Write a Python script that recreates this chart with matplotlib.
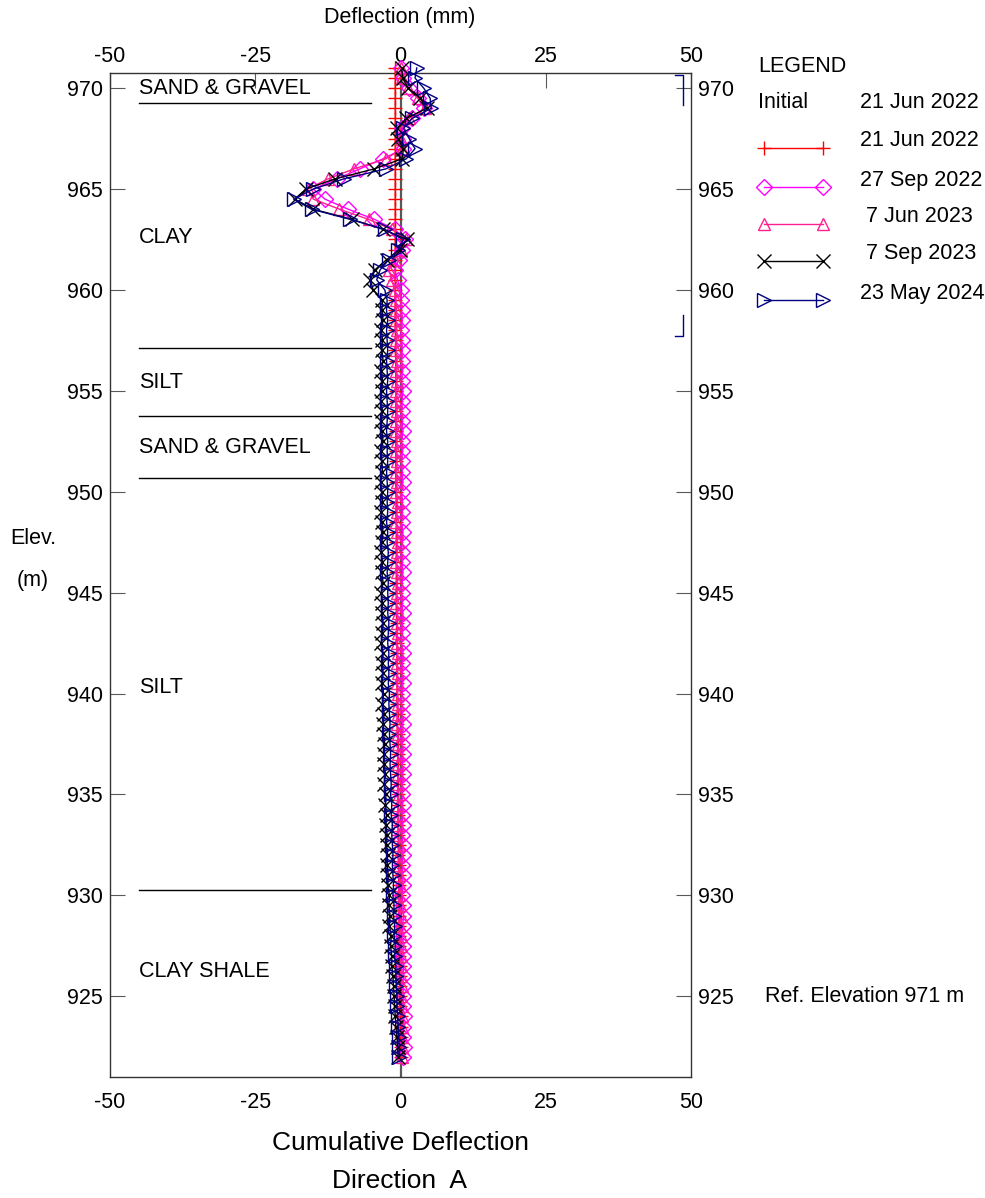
import numpy as np
import matplotlib
matplotlib.use("Agg")
import matplotlib.pyplot as plt
from matplotlib.lines import Line2D

plt.rcParams['font.family'] = ['Liberation Sans', 'DejaVu Sans']

# reading elevations (m), 0.5 m spacing
elev = np.arange(971.0, 921.9, -0.5)

# cumulative deflection (mm), one value per reading, top to bottom
d_21jun22 = [
    -0.9, -0.9, -0.9, -0.9, -0.9, -0.9, -0.9, -0.9, -0.9, -0.9,
    -0.9, -0.9, -0.9, -0.9, -0.9, -0.9, -0.9, -0.9, -0.9, -0.9,
    -0.9, -0.9, -0.9, -0.9, -0.9, -0.9, -0.9, -0.8, -0.9, -0.8,
    -0.8, -0.8, -0.8, -0.8, -0.8, -0.8, -0.8, -0.8, -0.8, -0.8,
    -0.8, -0.8, -0.8, -0.7, -0.8, -0.7, -0.7, -0.7, -0.7, -0.7,
    -0.7, -0.7, -0.7, -0.7, -0.7, -0.6, -0.7, -0.6, -0.6, -0.6,
    -0.6, -0.6, -0.6, -0.6, -0.5, -0.6, -0.5, -0.5, -0.5, -0.5,
    -0.5, -0.4, -0.5, -0.4, -0.4, -0.4, -0.4, -0.3, -0.4, -0.3,
    -0.3, -0.3, -0.3, -0.2, -0.3, -0.2, -0.2, -0.2, -0.2, -0.1,
    -0.1, -0.1, -0.1, -0.1, 0.0, 0.0, 0.0, 0.0, 0.0]
d_27sep22 = [
    0.0, 0.5, 1.5, 3.0, 4.0, 2.0, 0.3, 0.5, 0.5, -3.0,
    -7.0, -11.0, -15.0, -13.0, -9.0, -4.5, -1.0, 0.8, 0.3, -0.3,
    -1.0, -0.5, 0.0, 0.1, 0.2, 0.3, 0.1, 0.2, 0.3, 0.2,
    0.3, 0.2, 0.4, 0.3, 0.2, 0.3, 0.4, 0.2, 0.3, 0.2,
    0.3, 0.4, 0.2, 0.3, 0.3, 0.2, 0.4, 0.3, 0.2, 0.3,
    0.4, 0.3, 0.2, 0.3, 0.4, 0.3, 0.3, 0.2, 0.4, 0.3,
    0.3, 0.4, 0.3, 0.2, 0.3, 0.4, 0.3, 0.3, 0.4, 0.3,
    0.4, 0.3, 0.3, 0.4, 0.3, 0.4, 0.3, 0.4, 0.4, 0.3,
    0.4, 0.4, 0.3, 0.4, 0.5, 0.4, 0.4, 0.5, 0.4, 0.5,
    0.5, 0.4, 0.5, 0.5, 0.6, 0.5, 0.5, 0.6, 0.5]
d_7jun23 = [
    0.0, 0.3, 1.3, 3.0, 4.3, 1.5, 0.0, 0.0, 0.3, -2.5,
    -8.0, -12.5, -16.0, -15.0, -10.5, -5.5, -1.5, 1.0, 0.0, -1.0,
    -2.0, -1.5, -1.0, -0.8, -0.7, -0.8, -0.6, -0.7, -0.8, -0.6,
    -0.7, -0.6, -0.8, -0.7, -0.6, -0.7, -0.8, -0.6, -0.7, -0.6,
    -0.7, -0.6, -0.7, -0.5, -0.6, -0.7, -0.6, -0.5, -0.6, -0.7,
    -0.6, -0.5, -0.6, -0.7, -0.5, -0.6, -0.5, -0.6, -0.5, -0.6,
    -0.5, -0.6, -0.5, -0.4, -0.5, -0.6, -0.4, -0.5, -0.4, -0.5,
    -0.4, -0.5, -0.3, -0.4, -0.3, -0.4, -0.3, -0.2, -0.3, -0.2,
    -0.2, -0.1, -0.2, -0.1, 0.0, -0.1, 0.0, 0.1, 0.0, 0.1,
    0.1, 0.2, 0.1, 0.2, 0.2, 0.3, 0.2, 0.3, 0.2]
d_7sep23 = [
    0.2, 0.4, 1.3, 3.4, 4.5, 1.0, -0.6, -0.5, 0.5, 0.3,
    -4.5, -11.3, -16.3, -18.2, -15.0, -8.4, -3.0, 1.1, -0.1, -2.4,
    -4.4, -5.2, -4.7, -3.1, -3.2, -3.0, -3.3, -3.1, -3.2, -3.0,
    -3.3, -3.1, -3.2, -3.4, -3.1, -3.3, -3.2, -3.0, -3.3, -3.2,
    -3.1, -3.4, -3.2, -3.1, -3.3, -3.2, -3.0, -3.2, -3.3, -3.1,
    -3.2, -3.0, -3.3, -3.1, -3.2, -3.0, -3.1, -3.3, -3.0, -3.1,
    -3.0, -3.2, -2.9, -3.1, -2.8, -3.0, -2.9, -2.7, -2.9, -2.8,
    -2.6, -2.8, -2.5, -2.6, -2.4, -2.5, -2.3, -2.4, -2.2, -2.3,
    -2.1, -2.2, -1.9, -2.0, -1.8, -1.9, -1.6, -1.7, -1.5, -1.5,
    -1.3, -1.2, -1.1, -1.0, -0.9, -0.8, -0.6, -0.5, -0.4]
d_23may24 = [
    2.8, 2.5, 4.0, 5.1, 5.3, 2.0, 0.5, 1.5, 2.5, 1.0,
    -2.5, -9.8, -15.0, -18.4, -15.3, -8.7, -2.7, 0.5, -0.4, -2.0,
    -3.5, -4.1, -2.7, -2.3, -2.4, -2.2, -2.4, -2.3, -2.2, -2.4,
    -2.3, -2.2, -2.4, -2.3, -2.2, -2.3, -2.4, -2.2, -2.3, -2.2,
    -2.4, -2.3, -2.2, -2.3, -2.2, -2.4, -2.2, -2.3, -2.1, -2.2,
    -2.3, -2.1, -2.2, -2.1, -2.2, -2.0, -2.1, -2.2, -2.0, -2.1,
    -2.0, -2.1, -1.9, -2.0, -1.9, -1.8, -1.9, -1.8, -1.7, -1.8,
    -1.7, -1.6, -1.7, -1.5, -1.6, -1.4, -1.5, -1.4, -1.3, -1.4,
    -1.3, -1.2, -1.3, -1.1, -1.2, -1.0, -1.1, -0.9, -1.0, -0.8,
    -0.8, -0.7, -0.6, -0.6, -0.5, -0.4, -0.3, -0.2, -0.2]

dates = ['21 Jun 2022', '27 Sep 2022', ' 7 Jun 2023', ' 7 Sep 2023', '23 May 2024']
series = [d_21jun22, d_27sep22, d_7jun23, d_7sep23, d_23may24]
colors = ['#ff0000', '#ff00ff', '#ff2090', '#000000', '#000080']
markers = ['+', 'D', '^', 'x', '>']
msizes = [10, 8, 9, 10, 10]

x_ticks = [-50, -25, 0, 25, 50]
x_labels = ['-50', '-25', '0', '25', '50']
y_ticks = [925, 930, 935, 940, 945, 950, 955, 960, 965, 970]

# soil log
layer_names = ['SAND & GRAVEL', 'CLAY', 'SILT', 'SAND & GRAVEL', 'SILT', 'CLAY SHALE']
layer_label_elev = [970.0, 962.6, 955.4, 952.2, 940.3, 926.25]
layer_bounds = [969.25, 957.1, 953.75, 950.7, 930.25]

FS = 15.5
W, H = 985, 1198
fig = plt.figure(figsize=(W / 100, H / 100), dpi=100)


def fpos(x, y):
    return x / W, 1 - y / H


ax = fig.add_axes([110 / W, 1 - 1077 / H, (691 - 110) / W, (1077 - 73) / H])
ax.set_xlim(-50, 50)
ax.set_ylim(921, 970.75)

ax.axvline(0, color='0.35', lw=1.6, zorder=1)

for d, c, m, ms in zip(series, colors, markers, msizes):
    ax.plot(d, elev, color=c, lw=1.0, marker=m, ms=ms, mfc='none', mec=c,
            mew=1.0, clip_on=False, zorder=3)

for b in layer_bounds:
    ax.plot([-45, -5], [b, b], color='black', lw=1.0)
for name, e in zip(layer_names, layer_label_elev):
    ax.text(-45, e, name, fontsize=FS, va='center', ha='left')

# casing marks
ax.plot([47.3, 48.6, 48.6], [970.65, 970.65, 969.15], color='#000080', lw=1)
ax.plot([48.6, 48.6, 47.3], [958.75, 957.7, 957.7], color='#000080', lw=1)

ax.set_xticks(x_ticks)
ax.set_xticklabels(x_labels)
ax.set_yticks(y_ticks)
ax.tick_params(axis='x', bottom=False, top=False, labelsize=FS, pad=7)
ax.tick_params(axis='y', direction='in', length=11, left=True, right=True,
               labelleft=True, labelright=True, labelsize=FS, pad=5,
               color='0.35')
secx = ax.secondary_xaxis('top')
secx.set_xticks(x_ticks)
secx.set_xticklabels(x_labels)
secx.tick_params(direction='in', length=11, labelsize=FS, pad=4, color='0.35')
secx.spines['top'].set_visible(False)
for s in ax.spines.values():
    s.set_color('0.2')
    s.set_linewidth(1.0)

fig.text(*fpos(400, 18), 'Deflection (mm)', fontsize=FS, ha='center', va='center')
fig.text(*fpos(400, 1143), 'Cumulative Deflection', fontsize=19, ha='center', va='center')
fig.text(*fpos(400, 1181), 'Direction  A', fontsize=19, ha='center', va='center')
fig.text(*fpos(33, 538), 'Elev.', fontsize=FS, ha='center', va='center')
fig.text(*fpos(33, 580), '(m)', fontsize=FS, ha='center', va='center')
fig.text(*fpos(765, 996), 'Ref. Elevation 971 m', fontsize=FS, ha='left', va='center')

# legend
fig.text(*fpos(758, 67), 'LEGEND', fontsize=FS, ha='left', va='center')
fig.text(*fpos(758, 103), 'Initial', fontsize=FS, ha='left', va='center')
fig.text(*fpos(860, 103), '21 Jun 2022', fontsize=FS, ha='left', va='center')
row_y = [141, 180, 217, 254, 293]
for d, c, m, ms, ry in zip(dates, colors, markers, msizes, row_y):
    x0, y0 = fpos(764, ry + 7)
    x1, _ = fpos(823, ry + 7)
    fig.add_artist(Line2D([x0, x1], [y0, y0], transform=fig.transFigure,
                          color=c, lw=1.0, marker=m, ms=ms, mfc='none',
                          mec=c, mew=1.0))
    fig.text(*fpos(860, ry), d, fontsize=FS, ha='left', va='center')

fig.savefig('out.png', dpi=100)
